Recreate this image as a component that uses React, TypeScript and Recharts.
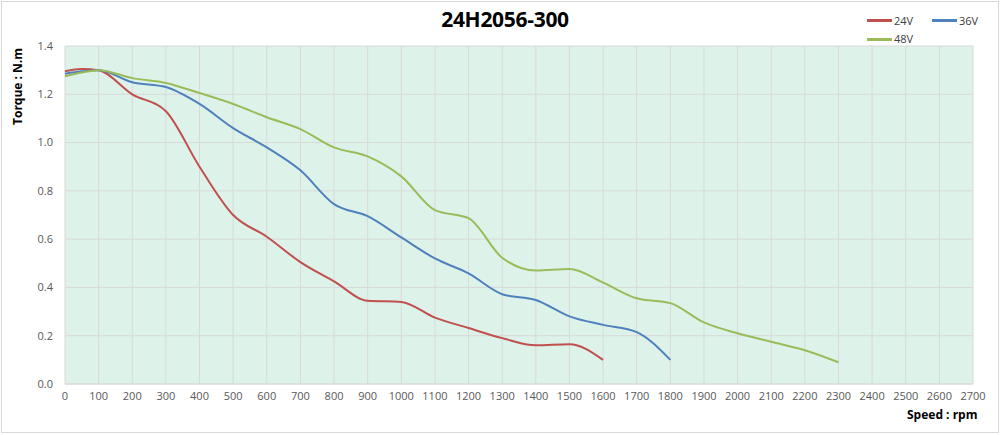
import { LineChart, Line, XAxis, YAxis, CartesianGrid } from 'recharts';

const speeds = [0, 50, 100, 200, 300, 400, 500, 600, 700, 800, 900, 1000, 1100, 1200, 1300, 1400, 1500, 1600, 1700, 1800, 1900, 2000, 2100, 2200, 2300];
const torque24 = [1.295, 1.305, 1.30, 1.20, 1.13, 0.90, 0.70, 0.61, 0.505, 0.425, 0.345, 0.34, 0.275, 0.232, 0.19, 0.16, 0.165, 0.10];
const torque36 = [1.285, 1.295, 1.30, 1.25, 1.23, 1.16, 1.06, 0.98, 0.885, 0.745, 0.695, 0.607, 0.52, 0.458, 0.372, 0.348, 0.28, 0.245, 0.215, 0.10];
const torque48 = [1.275, 1.29, 1.30, 1.267, 1.247, 1.205, 1.16, 1.105, 1.056, 0.98, 0.943, 0.86, 0.72, 0.687, 0.523, 0.47, 0.476, 0.42, 0.355, 0.335, 0.255, 0.21, 0.175, 0.14, 0.09];
const xTicks = Array.from({ length: 28 }, (_, i) => i * 100);
const yTicks = [0, 0.2, 0.4, 0.6, 0.8, 1.0, 1.2, 1.4];

const series = [
  { key: 'v24', name: '24V', color: '#C0504D', values: torque24 },
  { key: 'v36', name: '36V', color: '#4F81BD', values: torque36 },
  { key: 'v48', name: '48V', color: '#9BBB59', values: torque48 },
];

const data = speeds.map((rpm, i) => {
  const row: { [k: string]: number | undefined } = { rpm };
  series.forEach((s) => {
    row[s.key] = s.values[i];
  });
  return row;
});

const font = '"Open Sans", sans-serif';

export default function App() {
  return (
    <div
      style={{
        position: 'absolute',
        left: 0,
        top: 0,
        width: 1000,
        height: 435,
        background: '#fff',
        fontFamily: font,
      }}
    >
      <div
        style={{
          position: 'absolute',
          left: 1,
          top: 1,
          width: 996,
          height: 430,
          border: '1px solid #d9d9d9',
        }}
      />
      <div
        style={{
          position: 'absolute',
          left: 0,
          width: 1010,
          top: 5,
          textAlign: 'center',
          fontSize: 21,
          fontWeight: 700,
          color: '#000',
          letterSpacing: -0.3,
        }}
      >
        24H2056-300
      </div>
      <div
        style={{
          position: 'absolute',
          left: 867,
          top: 10,
          width: 130,
          fontSize: 11,
          color: '#404040',
          lineHeight: '16px',
        }}
      >
        {series.map((s) => (
          <div key={s.key} style={{ display: 'inline-flex', alignItems: 'center', width: 65 }}>
            <span style={{ display: 'inline-block', width: 25, height: 3, background: s.color, marginRight: 2 }} />
            {s.name}
          </div>
        ))}
      </div>
      <div
        style={{
          position: 'absolute',
          left: 9,
          top: 125,
          transform: 'rotate(-90deg)',
          transformOrigin: 'left top',
          fontSize: 12,
          fontWeight: 700,
          whiteSpace: 'nowrap',
        }}
      >
        Torque : N.m
      </div>
      <div
        style={{
          position: 'absolute',
          left: 907,
          top: 406,
          fontSize: 12,
          fontWeight: 700,
          whiteSpace: 'nowrap',
        }}
      >
        Speed : rpm
      </div>
      <LineChart width={1000} height={435} data={data} margin={{ top: 46, right: 27, bottom: 0, left: 0 }}>
        <CartesianGrid fill="#DDF3EA" stroke="#D9D9D9" />
        <XAxis
          dataKey="rpm"
          type="number"
          domain={[0, 2700]}
          ticks={xTicks}
          interval={0}
          height={51}
          tickLine={false}
          axisLine={{ stroke: '#D9D9D9' }}
          tick={{ fill: '#595959', fontSize: 11, fontFamily: font }}
          tickMargin={2}
        />
        <YAxis
          type="number"
          domain={[0, 1.4]}
          ticks={yTicks}
          interval={0}
          width={65}
          tickLine={false}
          axisLine={false}
          tickFormatter={(v: number) => v.toFixed(1)}
          tick={{ fill: '#595959', fontSize: 11, fontFamily: font }}
          tickMargin={6}
        />
        {series.map((s) => (
          <Line
            key={s.key}
            type="monotone"
            dataKey={s.key}
            name={s.name}
            stroke={s.color}
            strokeWidth={2}
            dot={false}
            activeDot={false}
            isAnimationActive={false}
          />
        ))}
      </LineChart>
    </div>
  );
}
